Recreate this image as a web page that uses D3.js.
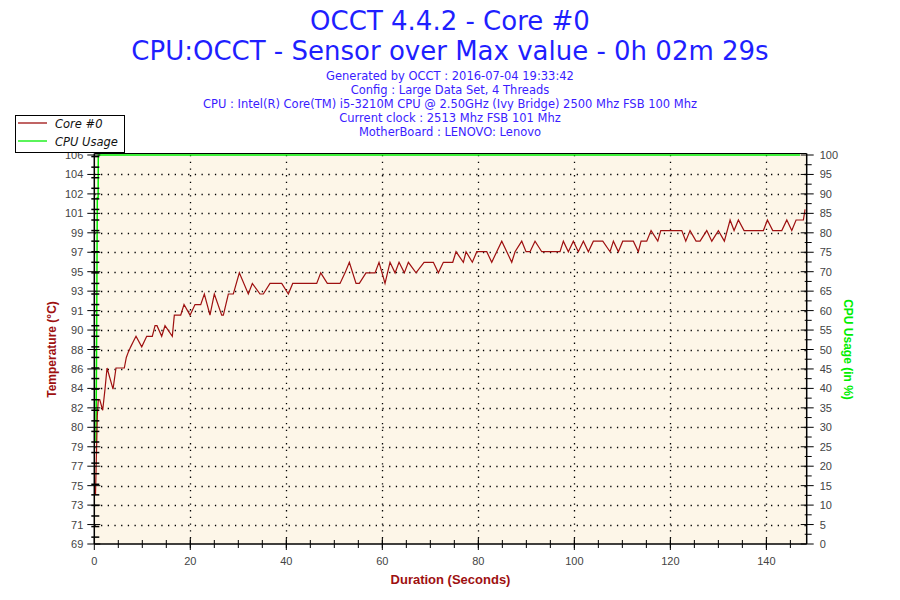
<!DOCTYPE html>
<html>
<head>
<meta charset="utf-8">
<script src="https://cdn.jsdelivr.net/npm/d3@7"></script>
<style>
  body { margin: 0; background: #ffffff; }
  svg { display: block; }
</style>
</head>
<body>
<svg id="chart" width="900" height="600"></svg>
<script>
//          Chart data
var titleLines = ["OCCT 4.4.2 - Core #0", "CPU:OCCT - Sensor over Max value - 0h 02m 29s"];
var infoLines = [
    "Generated by OCCT : 2016-07-04 19:33:42",
    "Config : Large Data Set, 4 Threads",
    "CPU : Intel(R) Core(TM) i5-3210M CPU @ 2.50GHz (Ivy Bridge) 2500 Mhz FSB 100 Mhz",
    "Current clock : 2513 Mhz FSB 101 Mhz",
    "MotherBoard : LENOVO: Lenovo"
];
var seriesNames = ["Core #0", "CPU Usage"];

var tempTickLabels = [69, 71, 73, 75, 77, 79, 80, 82, 84, 86, 88, 90, 91, 93, 95, 97, 99, 101, 102, 104, 106];
var tempRange = [69.35, 106.15];
var cpuTickLabels = [0, 5, 10, 15, 20, 25, 30, 35, 40, 45, 50, 55, 60, 65, 70, 75, 80, 85, 90, 95, 100];
var timeTickLabels = [0, 20, 40, 60, 80, 100, 120, 140];
var timeRange = [0, 148.4];

//          Core #0 temperature (seconds, °C)
var coreTime = [0.25, 0.63, 0.83, 1.13, 1.75, 2.23, 2.65, 3.9, 4.52, 6.25, 6.67, 7.08, 7.58, 8.13, 8.69,
    9.88, 10.92, 12.08, 12.65, 13.06, 14.04, 14.73, 16.25, 16.67, 18, 18.69, 19.94, 20.98, 22.17, 22.92,
    24.1, 25, 26.54, 26.88, 27.92, 28.96, 30.21, 32.08, 32.92, 34.52, 35.21, 36.6, 39.04, 40.42, 41.33,
    45.29, 46.33, 47.17, 48.54, 51.19, 52.23, 53.13, 54.52, 55.21, 56.6, 58.48, 59.31, 60.56, 61.6, 62.65,
    63.48, 64.58, 65.42, 67.02, 68.69, 70.63, 71.67, 72.71, 74.67, 75.35, 76.88, 77.44, 78.75, 79.67, 81.75,
    82.79, 83.83, 84.88, 86.96, 87.65, 89.04, 89.94, 90.77, 91.81, 93.21, 95.98, 97.02, 97.71, 98.75, 99.79,
    100.83, 101.88, 102.92, 103.96, 105.92, 107.44, 108.13, 109.17, 110.08, 112.29, 113.33, 113.9, 115.08, 115.98, 117.38,
    118, 122.38, 123.21, 124.1, 125.35, 126.19, 127.58, 128.63, 130, 131.25, 132.44, 133.27, 134.17, 135.35, 139.38,
    140.21, 141.33, 143.21, 144.25, 145.29, 146.19, 147.71, 148.06];
var coreTemp = [74, 81.5, 83, 83, 82, 84, 86, 84, 86, 86, 87, 87.5, 88, 88.5, 89,
    88, 89, 89, 90, 90, 89, 90, 89, 91, 91, 92, 91, 92, 92, 93,
    91, 93, 91, 91, 93, 93, 95, 93, 94, 93, 93, 94, 94, 93, 94,
    94, 94, 95, 94, 94, 95, 96, 94, 94, 95, 95, 96, 94, 96, 95,
    96, 95, 96, 95, 96, 96, 95, 96, 96, 97, 96, 97, 96, 97, 97,
    96, 97, 98, 96, 97, 98, 97, 97, 98, 97, 97, 97, 98, 97, 98,
    97, 98, 97, 98, 98, 97, 98, 97, 98, 98, 97, 98, 98, 99, 98,
    99, 99, 98, 99, 98, 98, 99, 98, 99, 98, 100, 99, 100, 99, 99,
    100, 99, 99, 100, 99, 100, 100, 101];

//          CPU usage (seconds, %)
var cpuTime = [0.35, 0.46, 0.63, 0.8, 0.83, 147];
var cpuUsage = [26, 47, 89, 89, 100, 100];

//          Chart settings
var plotLeft = 94.3, plotRight = 806.7, plotTop = 155, plotBottom = 544;
var redColor = "#9e1010";
var greenColor = "#00ee00";
var axisFont = "'Liberation Sans', Arial, sans-serif";
var titleFont = "'DejaVu Sans', Verdana, sans-serif";

var svg = d3.select("#chart");

var x = d3.scaleLinear().domain(timeRange).range([plotLeft, plotRight]);
var yTemp = d3.scaleLinear().domain(tempRange).range([plotBottom, plotTop]);
var yCpu = d3.scaleLinear().domain([0, 100]).range([plotBottom, plotTop]);
var tempStep = (tempRange[1] - tempRange[0]) / (tempTickLabels.length - 1);
var tempTicks = tempTickLabels.map(function(d, i) { return tempRange[0] + i * tempStep; });

//          Titles
svg.selectAll("text.title").data(titleLines).enter().append("text")
    .attr("class", "title")
    .attr("x", 450)
    .attr("y", function(d, i) { return 30 + i * 30; })
    .attr("text-anchor", "middle")
    .style("font-family", titleFont)
    .style("font-size", "26px")
    .style("fill", "#1f1fff")
    .text(function(d) { return d; });

svg.selectAll("text.info").data(infoLines).enter().append("text")
    .attr("class", "info")
    .attr("x", 450)
    .attr("y", function(d, i) { return 80 + i * 14; })
    .attr("text-anchor", "middle")
    .style("font-family", titleFont)
    .style("font-size", "11.5px")
    .style("fill", "#3a1cff")
    .text(function(d) { return d; });

//          Plot background + grid
svg.append("rect")
    .attr("x", plotLeft).attr("y", plotTop - 1.5)
    .attr("width", plotRight - plotLeft).attr("height", plotBottom - plotTop + 1.5)
    .style("fill", "#fdf6e8");

svg.selectAll("line.hgrid").data(tempTicks.slice(1, -1)).enter().append("line")
    .attr("x1", plotLeft).attr("x2", plotRight)
    .attr("y1", function(d) { return Math.round(yTemp(d)) + 0.5; })
    .attr("y2", function(d) { return Math.round(yTemp(d)) + 0.5; })
    .style("stroke", "#000").style("stroke-width", 1.3)
    .style("stroke-dasharray", "1.3,5.4");

svg.selectAll("line.vgrid").data(timeTickLabels.slice(1)).enter().append("line")
    .attr("x1", function(d) { return Math.round(x(d)) + 0.5; })
    .attr("x2", function(d) { return Math.round(x(d)) + 0.5; })
    .attr("y1", plotTop).attr("y2", plotBottom)
    .style("stroke", "#000").style("stroke-width", 1.3)
    .style("stroke-dasharray", "1.3,5.4");

//          Series lines
var cpuLine = d3.line()
    .x(function(d) { return x(cpuTime[d]); })
    .y(function(d) { return yCpu(cpuUsage[d]); });
svg.append("path")
    .attr("d", cpuLine(d3.range(cpuTime.length)))
    .style("fill", "none").style("stroke", greenColor).style("stroke-width", 1.5);

var coreLine = d3.line()
    .x(function(d) { return x(coreTime[d]); })
    .y(function(d) { return yTemp(coreTemp[d]); });
svg.append("path")
    .attr("d", coreLine(d3.range(coreTime.length)))
    .style("fill", "none").style("stroke", redColor).style("stroke-width", 1.2);

//          Frame
svg.append("line").attr("x1", plotLeft).attr("x2", plotRight).attr("y1", plotTop - 1.5).attr("y2", plotTop - 1.5)
    .style("stroke", "#000").style("stroke-width", 1.2);

//          Bottom axis
var xAxis = svg.append("g").attr("transform", "translate(0," + plotBottom + ")");
xAxis.append("line").attr("x1", plotLeft).attr("x2", plotRight).style("stroke", "#000").style("stroke-width", 1.5);
xAxis.selectAll("line.minor").data(d3.range(5, timeRange[1], 5)).enter().append("line")
    .attr("x1", function(d) { return x(d); }).attr("x2", function(d) { return x(d); })
    .attr("y1", -4).attr("y2", 4)
    .style("stroke", "#000");
xAxis.selectAll("line.major").data(timeTickLabels).enter().append("line")
    .attr("x1", function(d) { return x(d); }).attr("x2", function(d) { return x(d); })
    .attr("y1", -6).attr("y2", 6)
    .style("stroke", "#000");
xAxis.selectAll("text").data(timeTickLabels).enter().append("text")
    .attr("x", function(d) { return x(d); })
    .attr("y", 21)
    .attr("text-anchor", "middle")
    .style("font-family", axisFont).style("font-size", "11px").style("fill", "#444")
    .text(function(d) { return d; });

//          Left axis (temperature)
var tAxis = svg.append("g").attr("transform", "translate(" + plotLeft + ",0)");
tAxis.append("line").attr("y1", plotTop - 1.5).attr("y2", plotBottom).style("stroke", "#000").style("stroke-width", 1.5);
tAxis.selectAll("line.minor").data(d3.range(70, 107)).enter().append("line")
    .attr("y1", function(d) { return yTemp(d); }).attr("y2", function(d) { return yTemp(d); })
    .attr("x1", -3).attr("x2", 5)
    .style("stroke", "#000").style("stroke-width", 1.5);
tAxis.selectAll("line.major").data(tempTicks).enter().append("line")
    .attr("y1", function(d) { return yTemp(d); }).attr("y2", function(d) { return yTemp(d); })
    .attr("x1", -7).attr("x2", 6)
    .style("stroke", "#000");
tAxis.selectAll("text").data(tempTicks).enter().append("text")
    .attr("x", -11)
    .attr("y", function(d) { return yTemp(d) + 4; })
    .attr("text-anchor", "end")
    .style("font-family", axisFont).style("font-size", "11px").style("fill", "#444")
    .text(function(d, i) { return tempTickLabels[i]; });

//          Right axis (CPU usage)
var cAxis = svg.append("g").attr("transform", "translate(" + plotRight + ",0)");
cAxis.append("line").attr("y1", plotTop - 1.5).attr("y2", plotBottom).style("stroke", "#000").style("stroke-width", 1.5);
cAxis.selectAll("line.minor").data(d3.range(2.5, 100, 5)).enter().append("line")
    .attr("y1", function(d) { return yCpu(d); }).attr("y2", function(d) { return yCpu(d); })
    .attr("x1", -2).attr("x2", 5)
    .style("stroke", "#000");
cAxis.selectAll("line.major").data(cpuTickLabels).enter().append("line")
    .attr("y1", function(d) { return yCpu(d); }).attr("y2", function(d) { return yCpu(d); })
    .attr("x1", -6).attr("x2", 7)
    .style("stroke", "#000");
cAxis.selectAll("text").data(cpuTickLabels).enter().append("text")
    .attr("x", 13)
    .attr("y", function(d) { return yCpu(d) + 4; })
    .attr("text-anchor", "start")
    .style("font-family", axisFont).style("font-size", "11px").style("fill", "#444")
    .text(function(d) { return d; });

//          Axis titles
svg.append("text")
    .attr("transform", "translate(56," + ((plotTop + plotBottom) / 2) + ") rotate(-90)")
    .attr("text-anchor", "middle")
    .style("font-family", axisFont).style("font-size", "12px").style("font-weight", "bold")
    .style("fill", redColor)
    .text("Temperature (°C)");

svg.append("text")
    .attr("transform", "translate(844," + ((plotTop + plotBottom) / 2) + ") rotate(90)")
    .attr("text-anchor", "middle")
    .style("font-family", axisFont).style("font-size", "12px").style("font-weight", "bold")
    .style("fill", greenColor)
    .text("CPU Usage (in %)");

svg.append("text")
    .attr("x", (plotLeft + plotRight) / 2)
    .attr("y", 584)
    .attr("text-anchor", "middle")
    .style("font-family", axisFont).style("font-size", "13px").style("font-weight", "bold")
    .style("fill", redColor)
    .text("Duration (Seconds)");

//          Legend
var legend = svg.append("g").attr("transform", "translate(15,115)");
legend.append("rect")
    .attr("x", 0.5).attr("y", 0.5).attr("width", 109).attr("height", 37)
    .style("fill", "#fff").style("stroke", "#000");
var legendColors = [redColor, greenColor];
legend.selectAll("line").data(seriesNames).enter().append("line")
    .attr("x1", 3).attr("x2", 32)
    .attr("y1", function(d, i) { return 8 + i * 18; })
    .attr("y2", function(d, i) { return 8 + i * 18; })
    .style("stroke", function(d, i) { return legendColors[i]; })
    .style("stroke-width", 1.3);
legend.selectAll("text").data(seriesNames).enter().append("text")
    .attr("x", 40)
    .attr("y", function(d, i) { return 12.5 + i * 18; })
    .style("font-family", titleFont)
    .style("font-size", "11.5px").style("font-style", "italic")
    .style("fill", "#111")
    .text(function(d) { return d; });
</script>
</body>
</html>
